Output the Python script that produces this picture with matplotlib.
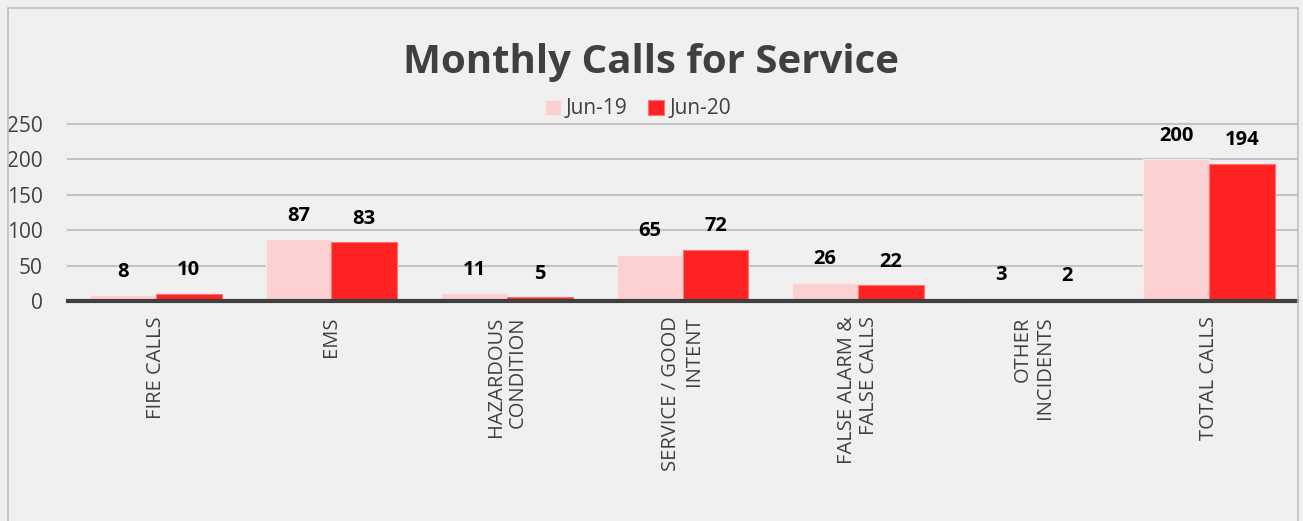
import matplotlib
matplotlib.use("Agg")
import matplotlib.pyplot as plt
import numpy as np
from matplotlib.patches import Rectangle

categories = ["FIRE CALLS", "EMS", "HAZARDOUS\nCONDITION", "SERVICE / GOOD\nINTENT",
              "FALSE ALARM &\nFALSE CALLS", "OTHER\nINCIDENTS", "TOTAL CALLS"]
series_names = ["Jun-19", "Jun-20"]
jun19 = [8, 87, 11, 65, 26, 3, 200]
jun20 = [10, 83, 5, 72, 22, 2, 194]
yticks = [0, 50, 100, 150, 200, 250]

plt.rcParams['font.family'] = ['Open Sans', 'DejaVu Sans']

W, H = 1303, 521
fig = plt.figure(figsize=(W / 100, H / 100), dpi=100)
bg = "#f0f0f0"
fig.patch.set_facecolor(bg)
fig.patches.append(Rectangle((8 / W, -0.05), 1290 / W, 1.05 - 8 / H, transform=fig.transFigure,
                             facecolor="none", edgecolor="#bfbfbf", linewidth=1.2))

ax = fig.add_axes([68 / W, 220 / H, 1229 / W, 177 / H])
ax.set_facecolor(bg)
x = np.arange(len(categories))
bw = 0.375
c1, c2 = "#fbd0d0", "#ff2222"
b1 = ax.bar(x - bw / 2, jun19, bw, color=c1, edgecolor="#fde6e6", linewidth=0.8, label=series_names[0], zorder=3)
b2 = ax.bar(x + bw / 2, jun20, bw, color=c2, edgecolor="#ff7070", linewidth=0.8, label=series_names[1], zorder=3)
for bars in (b1, b2):
    for r in bars:
        ax.annotate(f"{int(r.get_height())}", (r.get_x() + r.get_width() / 2, r.get_height()),
                    xytext=(0, 17), textcoords="offset points", ha="center", va="center",
                    fontsize=14.5, fontweight="bold", color="black")

ax.set_xlim(-0.5, len(categories) - 0.5)
ax.set_ylim(0, 250)
ax.set_yticks(yticks)
for t in yticks[1:]:
    ax.axhline(t, color="#c4c4c4", linewidth=1.5, zorder=1, clip_on=False)
ax.axhline(0, color="#404040", linewidth=3, zorder=4, clip_on=False)
for s in ax.spines.values():
    s.set_visible(False)
ax.tick_params(axis="both", length=0, colors="#404040", labelsize=15)
ax.tick_params(axis="y", pad=18)
ax.tick_params(axis="x", pad=11)
ax.set_xticks(x)
ax.set_xticklabels(categories, rotation=90, fontsize=14.5, color="#404040", multialignment="right",
                   linespacing=1.15)

fig.text(651 / W, 1 - 63 / H, "Monthly Calls for Service", ha="center", va="center",
         fontsize=29, fontweight="bold", color="#404040")
leg = fig.legend(handles=[b1, b2], loc="center", bbox_to_anchor=(638 / W, 1 - 109 / H), ncol=2,
                 frameon=False, fontsize=15, handlelength=0.75, handleheight=0.75,
                 handletextpad=0.25, columnspacing=1.0, labelcolor="#404040")

fig.savefig("out.png", dpi=100, facecolor=bg)
